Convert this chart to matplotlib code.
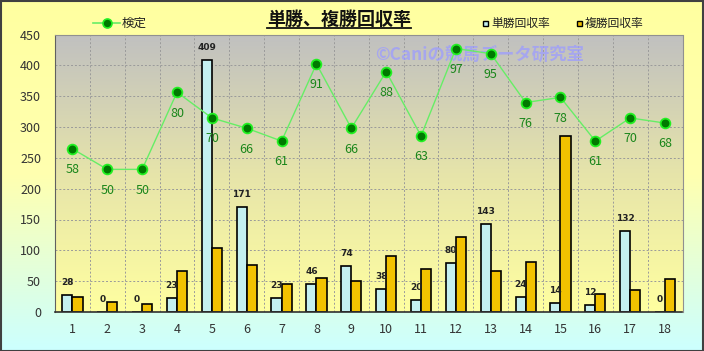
import numpy as np
import matplotlib
matplotlib.use("Agg")
import matplotlib.pyplot as plt
from matplotlib.lines import Line2D
from matplotlib.patches import Rectangle
from matplotlib.colors import LinearSegmentedColormap

plt.rcParams['font.family'] = ['Noto Sans CJK JP', 'DejaVu Sans']

categories = [str(i) for i in range(1, 19)]
win_rate = [28, 0, 0, 23, 409, 171, 23, 46, 74, 38, 20, 80, 143, 24, 14, 12, 132, 0]
place_rate = [24, 17, 13, 67, 104, 77, 45, 55, 50, 91, 70, 122, 67, 81, 285, 30, 35, 53]
hit_rate = [58, 50, 50, 80, 70, 66, 61, 91, 66, 88, 63, 97, 95, 76, 78, 61, 70, 68]
y_ticks = [0, 50, 100, 150, 200, 250, 300, 350, 400, 450]

title = "単勝、複勝回収率"
legend_line = "検定"
legend_win = "単勝回収率"
legend_place = "複勝回収率"
watermark = "©Caniの競馬データ研究室"

W, H = 704, 351
fig = plt.figure(figsize=(W / 100, H / 100), dpi=100)

# figure background gradient
bg = fig.add_axes([0, 0, 1, 1], zorder=-10)
bg.set_axis_off()
cm_bg = LinearSegmentedColormap.from_list("bg", ["#FFFFA0", "#FFFFB0", "#CCFFFF"])
grad = np.linspace(0, 1, 256).reshape(-1, 1)
bg.imshow(grad, aspect="auto", cmap=cm_bg, extent=[0, 1, 0, 1], origin="upper")
bg.set_xlim(0, 1)
bg.set_ylim(0, 1)

left, right, top, bottom = 55, 682.5, 34.5, 312
ax = fig.add_axes([left / W, 1 - bottom / H, (right - left) / W, (bottom - top) / H])
x = np.arange(len(categories))
ax.set_xlim(-0.5, len(categories) - 0.5)
ax.set_ylim(0, 450)

cm_pa = LinearSegmentedColormap.from_list("pa", ["#C0C0C0", "#E6E4AA", "#FFFFA0"])
ax.imshow(grad, aspect="auto", cmap=cm_pa, extent=[-0.5, len(categories) - 0.5, 0, 450],
          origin="upper", zorder=-2)

# grid
for k in range(1, len(categories)):
    ax.axvline(k - 0.5, color="#9a9a9a", lw=0.7, ls=(0, (2, 2)), zorder=0)
for v in y_ticks[1:-1]:
    ax.axhline(v, color="#9a9a9a", lw=0.7, ls=(0, (2, 2)), zorder=0)

bw = 0.29
ax.bar(x - bw / 2, win_rate, width=bw, color="#C4F0F0", edgecolor="black", lw=1.2, zorder=2)
ax.bar(x + bw / 2, place_rate, width=bw, color="#F2C200", edgecolor="black", lw=1.2, zorder=2)

for xi, v in zip(x, win_rate):
    ax.annotate(str(v), (xi - bw / 2, v), xytext=(0, 9), textcoords="offset points",
                ha="center", va="center", fontsize=6.5, fontweight="bold", color="#222222",
                family=["DejaVu Sans"], zorder=3)

ax.set_yticks(y_ticks)
ax.set_yticklabels([str(v) for v in y_ticks])
ax.set_xticks(x)
ax.set_xticklabels(categories)
ax.tick_params(axis="both", length=0, labelsize=9, colors="#333333")
ax.tick_params(axis="y", pad=10)
ax.tick_params(axis="x", pad=8)
for s in ["top", "right"]:
    ax.spines[s].set_color("#909090")
ax.spines["left"].set_color("#606060")
ax.spines["bottom"].set_color("#303030")
ax.spines["bottom"].set_linewidth(1.2)

ax.text(0.676, 0.928, watermark, transform=ax.transAxes, ha="center", va="center",
        fontsize=12.5, fontweight="bold", color="#9C9CFF", alpha=0.75, zorder=1)

ax2 = ax.twinx()
ax2.set_ylim(-5.47, 102.45)
ax2.set_axis_off()
ax2.plot(x, hit_rate, color="#66EE66", lw=1.0, marker="o", markersize=7,
         markerfacecolor="#007A00", markeredgecolor="#22F022", markeredgewidth=1.3, zorder=4)
for xi, v in zip(x, hit_rate):
    ax2.annotate(str(v), (xi, v), xytext=(0, -15), textcoords="offset points",
                 ha="center", va="center", fontsize=9, color="#1A861A", zorder=5)

# title with underline
t = fig.text(339 / W, 1 - 19 / H, title, ha="center", va="center", fontsize=13,
             fontweight="bold", color="#111111")
fig.canvas.draw()
bb = t.get_window_extent(fig.canvas.get_renderer())
fig.add_artist(Line2D([bb.x0 / W, bb.x1 / W], [1 - 27.5 / H, 1 - 27.5 / H],
                      transform=fig.transFigure, color="#111111", lw=1.3))

# legend: line
ly = 1 - 23 / H
fig.add_artist(Line2D([93 / W, 120 / W], [ly, ly], transform=fig.transFigure,
                      color="#66EE66", lw=1.2))
fig.add_artist(Line2D([106.5 / W], [ly], transform=fig.transFigure, marker="o",
                      markersize=6.5, markerfacecolor="#007A00", markeredgecolor="#22F022",
                      markeredgewidth=1.2))
fig.text(122 / W, ly, legend_line, ha="left", va="center", fontsize=9, color="#222222")

# legend: bars
for sx, col, lab in [(485, "#C4F0F0", legend_win), (579, "#F2C200", legend_place)]:
    fig.add_artist(Rectangle(((sx - 2.5) / W, ly - 2.5 / H), 5 / W, 5 / H,
                             transform=fig.transFigure, facecolor=col, edgecolor="black", lw=1))
    fig.text((sx + 6) / W, ly, lab, ha="left", va="center", fontsize=8.5, color="#222222")

# figure border
fig.add_artist(Rectangle((0.5 / W, 0.5 / H), (W - 1.5) / W, (H - 1.5) / H,
                         transform=fig.transFigure, fill=False, edgecolor="#404040", lw=1.5))

fig.savefig("out.png", dpi=100)
